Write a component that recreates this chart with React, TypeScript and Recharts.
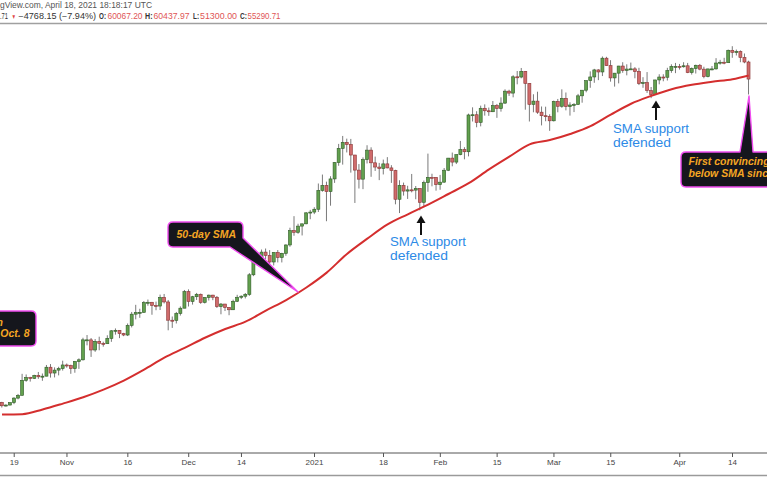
import React from 'react';
import { ComposedChart, Bar, Line, XAxis, YAxis } from 'recharts';

// ---------- data (BTC/USD daily, 16 Oct 2020 .. 18 Apr 2021) ----------
const START = { y: 2020, m: 9, d: 16 };
const FUTURE_SLOTS = 4;

const opens = [
  11505, 11320, 11360, 11500, 11750, 11910, 12810, 12990, 12930, 13120,
  13030, 13070, 13650, 13270, 13460, 13560, 13800, 13760, 13560, 14030,
  14150, 15590, 15590, 14840, 15480, 15330, 15300, 15700, 16290, 16330,
  16070, 15960, 16720, 17660, 17800, 17820, 18680, 18710, 18420, 18370,
  19160, 18740, 17150, 17140, 17720, 18180, 19700, 18780, 19220, 19450,
  18700, 19150, 19370, 19170, 18320, 18550, 18250, 18040, 18800, 19170,
  19270, 19440, 21380, 22840, 23140, 23870, 23480, 22750, 23830, 23250,
  23730, 24710, 26490, 26280, 27080, 27380, 28880, 28990, 29390, 32200,
  33000, 32020, 34050, 36860, 39490, 40670, 40240, 38240, 35540, 34010,
  37390, 39160, 36820, 36070, 35820, 36630, 35920, 35470, 30850, 33000,
  32100, 32290, 32250, 32510, 30400, 33440, 34320, 34300, 33110, 33520,
  35520, 37670, 36950, 38300, 39260, 38850, 46450, 46500, 44800, 47980,
  47400, 47180, 48600, 47930, 49200, 52140, 51650, 55900, 55840, 57410,
  54130, 48900, 49680, 47080, 46280, 46100, 45150, 49600, 48450, 50350,
  48360, 48750, 48880, 50970, 52380, 54880, 55860, 57800, 57230, 61190,
  59000, 55600, 56900, 58900, 57650, 58040, 58100, 57350, 54100, 54350,
  52300, 51300, 55050, 55840, 55780, 57620, 58780, 58800, 58730, 58970,
  57060, 58200, 59120, 58020, 55950, 58080, 58090, 59770, 60000, 59860,
  63580, 62960, 63200, 61400, 60067.2,
];
const highs = [
  11540, 11400, 11490, 11800, 11990, 13220, 13180, 13030, 13160, 13340,
  13240, 13800, 13860, 13640, 13680, 14090, 13900, 13820, 14070, 14250,
  15750, 15960, 15730, 15650, 15830, 15450, 15940, 16340, 16480, 16330,
  16130, 16880, 17850, 18480, 18130, 18820, 18960, 18740, 18770, 19420,
  19480, 18920, 17460, 17850, 18340, 19860, 19920, 19300, 19580, 19520,
  19170, 19420, 19400, 19290, 18640, 18560, 18270, 18950, 19400, 19350,
  19570, 21560, 23770, 23280, 24170, 24290, 24100, 23840, 24110, 23790,
  24790, 26870, 28420, 27390, 27400, 28990, 29300, 29680, 33300, 34780,
  33600, 34500, 36950, 40360, 41950, 41400, 41350, 38260, 36600, 37800,
  40100, 39700, 37950, 36800, 37400, 37850, 36400, 35600, 33830, 33450,
  32940, 34880, 32900, 32560, 33780, 38500, 34920, 34330, 34720, 35900,
  37700, 38700, 38350, 40950, 39720, 46750, 48200, 47300, 48600, 48900,
  48150, 49700, 49000, 50600, 52600, 52500, 56330, 57500, 58350, 57500,
  54200, 51360, 52000, 48400, 48350, 46600, 49800, 50200, 52600, 51800,
  49400, 49200, 51450, 52400, 54900, 57400, 58100, 58000, 61700, 61600,
  60600, 56950, 58950, 60000, 59400, 59900, 58600, 58400, 55800, 57200,
  53200, 55100, 56600, 56600, 58400, 59400, 59800, 59500, 60000, 59800,
  58500, 59300, 59500, 58700, 58150, 58900, 61200, 60700, 61300, 63800,
  64850, 63800, 63550, 62600, 60437.97,
];
const lows = [
  11223, 11280, 11340, 11410, 11680, 11900, 12720, 12730, 12890, 12900,
  12780, 13060, 12980, 12990, 13120, 13430, 13620, 13220, 13290, 13540,
  14100, 15180, 14350, 14710, 14820, 15080, 15290, 15440, 15990, 15720,
  15870, 15880, 16560, 17220, 17350, 17780, 18400, 17610, 18000, 18020,
  18600, 16330, 16520, 16880, 17540, 18180, 18330, 18500, 18920, 18570,
  18600, 18870, 18900, 18200, 17650, 17930, 17570, 18020, 18730, 19000,
  19060, 19300, 21240, 22350, 22800, 23080, 22000, 22370, 22700, 22700,
  23450, 24500, 25840, 26090, 25880, 27330, 28000, 28700, 29000, 32000,
  27730, 29900, 33400, 36300, 36500, 38720, 35110, 30300, 32500, 32400,
  36700, 34400, 35400, 33850, 34800, 35850, 33400, 30100, 28850, 31400,
  30900, 31900, 30850, 29240, 29850, 31990, 32850, 32170, 32300, 33420,
  35370, 36200, 36600, 38200, 37450, 37990, 45000, 43750, 43950, 46300,
  46250, 47100, 45800, 47200, 49000, 50950, 50600, 53900, 55500, 47650,
  45000, 47050, 46700, 44150, 45050, 43000, 45000, 47050, 48100, 47500,
  46300, 47100, 48800, 49300, 51850, 53000, 54300, 55000, 56100, 58960,
  54600, 53300, 54150, 57000, 56300, 57800, 55500, 53700, 53000, 51700,
  50400, 51200, 53900, 54700, 54900, 57000, 56900, 57900, 58450, 56900,
  56500, 56800, 57700, 55500, 55750, 57700, 57900, 59300, 59400, 59850,
  61300, 62000, 60000, 59700, 51300,
];
const closes = [
  11320, 11360, 11500, 11750, 11910, 12810, 12990, 12930, 13120, 13030,
  13070, 13650, 13270, 13460, 13560, 13800, 13760, 13560, 14030, 14150,
  15590, 15590, 14840, 15480, 15330, 15300, 15700, 16290, 16330, 16070,
  15960, 16720, 17660, 17800, 17820, 18680, 18710, 18420, 18370, 19160,
  18740, 17150, 17140, 17720, 18180, 19700, 18780, 19220, 19450, 18700,
  19150, 19370, 19170, 18320, 18550, 18250, 18040, 18800, 19170, 19270,
  19440, 21380, 22840, 23140, 23870, 23480, 22750, 23830, 23250, 23730,
  24710, 26490, 26280, 27080, 27380, 28880, 28990, 29390, 32200, 33000,
  32020, 34050, 36860, 39490, 40670, 40240, 38240, 35540, 34010, 37390,
  39160, 36820, 36070, 35820, 36630, 35920, 35470, 30850, 33000, 32100,
  32290, 32250, 32510, 30400, 33440, 34320, 34300, 33110, 33520, 35520,
  37670, 36950, 38300, 39260, 38850, 46450, 46500, 44800, 47980, 47400,
  47180, 48600, 47930, 49200, 52140, 51650, 55900, 55840, 57410, 54130,
  48900, 49680, 47080, 46280, 46100, 45150, 49600, 48450, 50350, 48360,
  48750, 48880, 50970, 52380, 54880, 55860, 57800, 57230, 61190, 59000,
  55600, 56900, 58900, 57650, 58040, 58100, 57350, 54100, 54350, 52300,
  51300, 55050, 55840, 55780, 57620, 58780, 58800, 58730, 58970, 57060,
  58200, 59120, 58020, 55950, 58080, 58090, 59770, 60000, 59860, 63580,
  62960, 63200, 61400, 60060, 55290.71,
];

// 50-day SMA, read every 5 sessions
const smaIndex = [
  0, 5, 10, 15, 20, 25, 30, 35, 40, 45, 50, 55, 60, 65, 70, 75, 80, 85, 90,
  95, 100, 105, 110, 115, 120, 125, 130, 135, 140, 145, 150, 155, 160, 165,
  170, 175, 180, 184,
];
const smaValues = [
  10847, 10867, 11117, 11441, 11799, 12244, 12793, 13492, 14296, 14988,
  15749, 16436, 17027, 17967, 18910, 20102, 21607, 23659, 25478, 27306,
  28674, 30059, 31647, 33349, 35661, 37929, 40261, 41120, 42344, 43978,
  46520, 49053, 50959, 52624, 53782, 54577, 55257, 56273,
];

const tickDates = [
  '2020-10-19', '2020-11-01', '2020-11-16', '2020-12-01', '2020-12-14',
  '2021-01-01', '2021-01-18', '2021-02-01', '2021-02-15', '2021-03-01',
  '2021-03-15', '2021-04-01', '2021-04-14',
];
const tickLabels = ['19', 'Nov', '16', 'Dec', '14', '2021', '18', 'Feb', '15', 'Mar', '15', 'Apr', '14'];

const Y_DOMAIN: [number, number] = [9001, 71885];

// ---------- build table ----------
function dateKey(i: number) {
  const d = new Date(Date.UTC(START.y, START.m, START.d + i));
  return d.toISOString().slice(0, 10);
}
const data: any[] = [];
for (let i = 0; i < closes.length + FUTURE_SLOTS; i++) {
  const row: any = { date: dateKey(i) };
  if (i < closes.length) {
    row.o = opens[i];
    row.h = highs[i];
    row.l = lows[i];
    row.c = closes[i];
    row.range = [lows[i], highs[i]];
  }
  const k = smaIndex.indexOf(i);
  if (k >= 0) row.sma = smaValues[k];
  data.push(row);
}

const labelOf = (v: string) => {
  const k = tickDates.indexOf(v);
  return k >= 0 ? tickLabels[k] : '';
};

const Candle = (props: any) => {
  const { x, y, width, height, payload } = props;
  if (!payload || payload.h == null || !isFinite(y) || !isFinite(height)) return null;
  const top = Math.min(y, y + height);
  const bot = Math.max(y, y + height);
  const lh = Math.log(payload.h);
  const ll = Math.log(payload.l);
  const span = lh - ll || 1;
  const py = (p: number) => top + ((bot - top) * (lh - Math.log(p))) / span;
  const cx = x + width / 2;
  const up = payload.c >= payload.o;
  const yo = py(payload.o);
  const yc = py(payload.c);
  const bTop = Math.min(yo, yc);
  const bH = Math.max(1, Math.abs(yc - yo));
  const bw = 3;
  return (
    <g>
      <line x1={cx} x2={cx} y1={top} y2={bot} stroke="#7a7a7a" strokeWidth={1} />
      <rect
        x={cx - bw / 2}
        y={bTop}
        width={bw}
        height={bH}
        fill={up ? '#62a04e' : '#cf6b6b'}
        stroke={up ? '#2f5a26' : '#8a3333'}
        strokeWidth={0.6}
      />
    </g>
  );
};

const ORANGE = '#f5a623';
const PINK = '#f04cf0';
const BOX = '#15161d';
const BLUE = '#2d8ae6';
const CALLOUT_FONT = '"Liberation Sans", Arial, sans-serif';

// header segments: [text, x, width, colour, bold, size]
const headerSegments: [string, number, number, string, boolean, number][] = [
  ['.71', 0, 8, '#333', false, 8.3],
  ['▼', 11.5, 4.5, '#e04848', false, 6.5],
  ['−4768.15 (−7.94%)', 18.5, 77.5, '#333', false, 8.3],
  ['O:', 99, 7, '#333', true, 8.3],
  ['60067.20', 107.5, 35, '#e05555', false, 8.3],
  ['H:', 145, 7.5, '#333', true, 8.3],
  ['60437.97', 153.5, 36, '#e05555', false, 8.3],
  ['L:', 193, 6, '#333', true, 8.3],
  ['51300.00', 200, 37, '#e05555', false, 8.3],
  ['C:', 240, 7, '#333', true, 8.3],
  ['55290.71', 247.5, 33, '#e05555', false, 8.3],
];

const BlueNote = ({ x, y }: { x: number; y: number }) => (
  <g fontFamily={CALLOUT_FONT} fontSize={12.2} fill={BLUE}>
    <text x={x} y={y} textLength={76} lengthAdjust="spacingAndGlyphs">SMA support</text>
    <text x={x} y={y + 14} textLength={58} lengthAdjust="spacingAndGlyphs">defended</text>
  </g>
);

const Overlay = () => (
  <svg
    width={767}
    height={477}
    style={{ position: 'absolute', left: 0, top: 0, pointerEvents: 'none' }}
  >
    {/* header */}
    <g fontFamily={CALLOUT_FONT}>
      <text x={0} y={7.5} fill="#555" fontSize={8.3} textLength={152} lengthAdjust="spacingAndGlyphs">
        gView.com, April 18, 2021 18:18:17 UTC
      </text>
      {headerSegments.map(([t, x, w, c, b, s], i) => (
        <text
          key={i}
          x={x}
          y={18.5}
          fill={c}
          fontSize={s}
          fontWeight={b ? 'bold' : 'normal'}
          textLength={w}
          lengthAdjust="spacingAndGlyphs"
        >
          {t}
        </text>
      ))}
    </g>
    <line x1={0} x2={767} y1={23.5} y2={23.5} stroke="#a0a0a0" strokeWidth={1.5} />
    <line x1={0} x2={767} y1={475.5} y2={475.5} stroke="#9a9a9a" strokeWidth={1.5} />

    {/* 50-day SMA callout */}
    <path
      d="M173,222 H238 Q243,222 243,227 V238 L298,292 L230,247 H173 Q168,247 168,242 V227 Q168,222 173,222 Z"
      fill={BOX}
      stroke={PINK}
      strokeWidth={1.4}
      strokeLinejoin="round"
    />
    <text x={176.5} y={237.5} fontFamily={CALLOUT_FONT} fontSize={10.5} fontWeight="bold" fontStyle="italic" fill={ORANGE}>
      50-day SMA
    </text>

    {/* left callout */}
    <path
      d="M-10,311 H31 Q36,311 36,316 V341 Q36,346 31,346 H-10 Z"
      fill={BOX}
      stroke={PINK}
      strokeWidth={1.4}
    />
    <g fontFamily={CALLOUT_FONT} fontSize={10.5} fontWeight="bold" fontStyle="italic" fill={ORANGE} textAnchor="end">
      <text x={3} y={325.5}>on</text>
      <text x={29.5} y={337}>Oct. 8</text>
    </g>

    {/* right callout */}
    <path
      d="M686,152 H740 L749,96 L753,152 H800 V187 H686 Q681,187 681,182 V157 Q681,152 686,152 Z"
      fill={BOX}
      stroke={PINK}
      strokeWidth={1.4}
      strokeLinejoin="round"
    />
    <g fontFamily={CALLOUT_FONT} fontSize={10.5} fontWeight="bold" fontStyle="italic" fill={ORANGE}>
      <text x={688.5} y={165}>First convincing close</text>
      <text x={688.5} y={177}>below SMA since Oct. 8</text>
    </g>

    {/* support arrows + labels */}
    <g>
      <line x1={421} x2={421} y1={235} y2={221} stroke="#111" strokeWidth={2} />
      <path d="M416.5,223 L421,215.5 L425.5,223 Z" fill="#111" />
      <line x1={656} x2={656} y1={120} y2={106} stroke="#111" strokeWidth={2} />
      <path d="M651.5,108 L656,100.5 L660.5,108 Z" fill="#111" />
    </g>
    <BlueNote x={390} y={245.5} />
    <BlueNote x={613} y={132.5} />
  </svg>
);

export default function App() {
  return (
    <div
      style={{
        position: 'absolute',
        left: 0,
        top: 0,
        width: 767,
        height: 477,
        background: '#ffffff',
        overflow: 'hidden',
      }}
    >
      <ComposedChart
        width={767}
        height={477}
        data={data}
        margin={{ top: 25, right: 0, bottom: 0, left: 0 }}
        barCategoryGap="20%"
      >
        <XAxis
          dataKey="date"
          ticks={tickDates}
          interval={0}
          tickFormatter={labelOf}
          height={24}
          tickSize={4}
          axisLine={{ stroke: '#555', strokeWidth: 1 }}
          tickLine={{ stroke: '#555' }}
          tick={{ fontSize: 8, fill: '#444', fontFamily: '"Liberation Sans", Arial, sans-serif' }}
        />
        <YAxis hide scale="log" domain={Y_DOMAIN} allowDataOverflow type="number" />
        <Bar dataKey="range" shape={<Candle />} isAnimationActive={false} />
        <Line
          dataKey="sma"
          type="monotone"
          stroke="#d42e2e"
          strokeWidth={2}
          dot={false}
          connectNulls
          isAnimationActive={false}
        />
      </ComposedChart>
      <Overlay />
    </div>
  );
}
